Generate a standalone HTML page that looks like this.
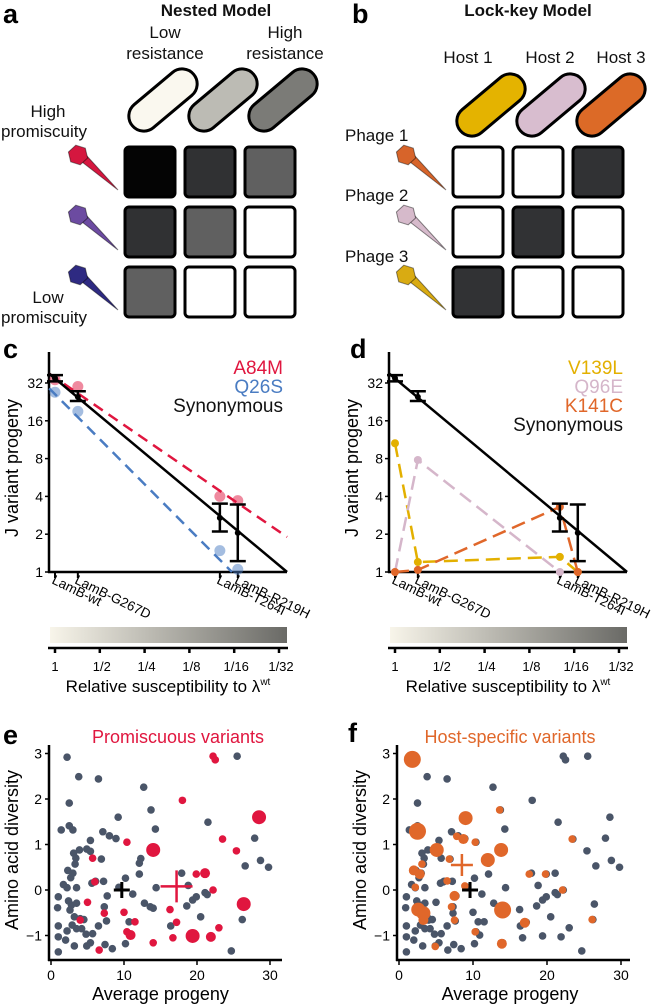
<!DOCTYPE html>
<html><head><meta charset="utf-8"><style>
html,body{margin:0;padding:0;background:#fff;}
svg{display:block;font-family:"Liberation Sans",sans-serif;}
</style></head><body>
<svg id="fig" width="656" height="1006" viewBox="0 0 656 1006" xmlns="http://www.w3.org/2000/svg">
<defs>
<linearGradient id="gradSus" x1="0" x2="1" y1="0" y2="0">
<stop offset="0" stop-color="#f8f5ea"/><stop offset="1" stop-color="#6a6a66"/>
</linearGradient>
</defs>
<g font-weight="bold" font-size="27">
<text x="3" y="23">a</text>
<text x="352" y="23">b</text>
<text x="3" y="358">c</text>
<text x="350" y="358">d</text>
<text x="3" y="744">e</text>
<text x="348" y="742">f</text>
</g>
<g font-size="17" fill="#111">
<text x="216" y="16" font-weight="bold" text-anchor="middle">Nested Model</text>
<text x="165" y="38" text-anchor="middle">Low</text>
<text x="165" y="59" text-anchor="middle">resistance</text>
<text x="285" y="38" text-anchor="middle">High</text>
<text x="285" y="59" text-anchor="middle">resistance</text>
<text x="48" y="117" text-anchor="middle">High</text>
<text x="44" y="137" text-anchor="middle">promiscuity</text>
<text x="48" y="303" text-anchor="middle">Low</text>
<text x="44" y="323" text-anchor="middle">promiscuity</text>
</g>
<g font-size="17" fill="#111">
<text x="528" y="16" font-weight="bold" text-anchor="middle">Lock-key Model</text>
<text x="468" y="63" text-anchor="middle">Host 1</text>
<text x="550" y="63" text-anchor="middle">Host 2</text>
<text x="621" y="63" text-anchor="middle">Host 3</text>
<text x="345" y="141">Phage 1</text>
<text x="345" y="201">Phage 2</text>
<text x="345" y="262">Phage 3</text>
</g>
<g id="schem"></g>
<g id="pc"></g>
<g id="pd"></g>
<g id="pe"></g>
<g id="pf"></g>
</svg>
<script>
// ---------- data ----------
const strainNames = ["LamB-wt","LamB-G267D","LamB-T264I","LamB-R219H"];
const strainHalvings = [0, 0.51, 3.68, 4.08];
const progenyTicks = [1,2,4,8,16,32];
const susTickLabels = ["1","1/2","1/4","1/8","1/16","1/32"];
const synMean = [35, 24.8, 2.7, 2.05];
const synLo = [33, 23, 2.1, 1.22];
const synHi = [37, 27.5, 3.5, 3.45];
const synLine = [[-0.13, 38], [5.18, 1]];
const a84mVals = [34, 30, 4.0, 3.7];
const a84mLine = [[-0.13, 38], [5.18, 1.9]];
const q26sVals = [27, 19, 1.48, 1.05];
const q26sLine = [[-0.13, 29], [3.95, 1.0]];
const v139lVals = [10.6, 1.2, 1.32, 1.0];
const q96eVals = [1.0, 7.8, 1.0];
const k141cVals = [1.0, 1.04, 3.3, 1.0];

const xTicksScatter = [0,10,20,30];
const yTicksScatter = [-1,0,1,2,3];
const grayX = [2.2,3.8,6.5,12.7,13.7,9.2,2.5,1.4,2.5,3.0,14.3,7.1,8.0,8.9,5.4,4.9,3.9,3.1,5.4,6.9,3.4,12.3,12.1,3.3,2.3,2.7,3.0,1.7,2.2,3.5,6.1,7.2,10.2,9.3,12.1,14.4,17.9,18.8,5.6,1.0,0.9,2.4,2.8,2.6,3.5,3.2,4.0,4.5,2.9,3.5,4.2,4.8,2.2,1.0,1.0,2.0,3.2,4.9,5.4,1.0,5.7,6.5,7.3,7.7,7.6,7.4,8.4,10.2,10.7,11.2,12.8,13.6,14.0,16.4,18.6,19.4,19.9,20.5,21.1,21.5,21.4,25.5,26.6,27.9,28.7,29.8,26.2,24.7];
const grayY = [2.92,2.49,2.44,2.26,1.76,1.60,1.91,1.32,1.41,1.32,1.34,1.28,1.19,1.13,1.09,0.90,0.88,0.81,0.85,0.68,0.70,0.69,0.59,0.57,0.43,0.27,0.37,0.12,0.05,0.05,0.19,0.19,0.26,0.06,0.35,0.05,0.37,0.10,0.15,-0.15,-0.39,-0.24,-0.33,-0.44,-0.29,-0.59,-0.63,-0.65,-0.77,-0.85,-0.85,-0.97,-0.90,-0.79,-1.03,-1.10,-1.23,-1.23,-1.16,-1.36,-0.96,-0.79,-0.37,-0.13,-0.68,-1.20,-1.29,-1.18,-0.70,-0.09,-0.29,-0.37,-0.40,-0.79,-0.35,-0.22,-0.15,-0.59,-0.06,1.49,-0.10,2.94,0.53,1.14,0.65,0.50,-0.65,-1.34];
const redX = [22.2,22.5,18.0,28.5,10.4,14.0,23.5,25.4,5.7,6.0,19.9,21.1,22.2,5.0,10.0,26.4,16.3,17.2,7.3,4.0,11.5,10.4,10.9,23.0,19.4,21.9,16.7,14.0,6.6];
const redY = [2.94,2.86,1.97,1.60,1.05,0.88,1.12,0.86,0.70,0.18,0.35,0.37,0.0,-0.27,-0.49,-0.31,-0.43,-0.71,-0.51,-0.66,-0.70,-0.92,-0.99,-0.83,-1.01,-1.03,-1.05,-1.16,-1.32];
const redSize = [1,1,1,3,1,3,1,1,1,1,1,2,1,1,1,3,1,1,1,1,1,1,2,1,3,2,1,1,1];
const orangeX = [1.8,2.5,13.6,9.0,7.8,8.7,10.3,5.1,13.8,12.0,6.8,3.1,2.0,2.8,2.2,6.5,8.9,17.6,19.8,23.4,22.1,7.5,7.1,7.5,14.0,2.6,3.3,3.3,17.0,26.1,10.3,13.9,4.9];
const orangeY = [2.87,1.29,1.76,1.58,1.18,1.12,1.05,0.88,0.88,0.66,0.68,0.57,0.43,0.35,0.06,0.2,0.09,0.35,0.35,1.12,0.0,-0.13,-0.37,-0.66,-0.44,-0.43,-0.51,-0.66,-0.72,-0.65,-0.92,-1.18,-1.24];
const orangeSize = [4,4,1,3,1,2,1,3,3,3,1,1,2,2,1,1,1,1,1,1,1,2,1,1,4,3,3,2,2,1,1,2,1];
const meanAllE = [9.7, 0.0];
const meanRed = [17.2, 0.08];
const meanAllF = [9.6, 0.0];
const meanOrange = [8.5, 0.55];

// ---------- helpers ----------
const NS = "http://www.w3.org/2000/svg";
function mk(tag, attrs, parent){const e=document.createElementNS(NS,tag);for(const k in attrs)e.setAttribute(k,attrs[k]);parent.appendChild(e);return e;}

// ---------- schematics ----------
const schem = document.getElementById("schem");
const gridA = [["#040404","#303133","#606060"],["#303133","#606060","#ffffff"],["#606060","#ffffff","#ffffff"]];
const gridB = [["#ffffff","#ffffff","#313234"],["#ffffff","#313234","#ffffff"],["#313234","#ffffff","#ffffff"]];
const pillA = ["#faf8ef","#bcbbb4","#7b7b77"];
const pillB = ["#e4b300","#d8bdcf","#dc6a27"];
const phageA = ["#d5173f","#6c4ba1","#2e2a82"];
const phageB = ["#d7642a","#d6bacb","#d9ab12"];
function drawPanel(ox, grid, pills, phages, pillY, tag){
  for(let c=0;c<3;c++){
    const cx=ox+163+c*60, cy=pillY;
    const p=mk("rect",{x:cx-40,y:cy-15,width:80,height:30,rx:15,fill:pills[c],stroke:"#000","stroke-width":3,transform:`rotate(-40 ${cx} ${cy})`},schem);
    
    
  }
  for(let r=0;r<3;r++){
    for(let c=0;c<3;c++){
      const s=mk("rect",{x:ox+125+c*60,y:147+r*60,width:50,height:50,rx:4,fill:grid[r][c],stroke:"#000","stroke-width":3},schem);
      
      
    }
    const hx=ox+78, hy=155+r*60;
    const g=mk("g",{},schem);
    
    
    mk("path",{d:`M${hx+4} ${hy+7} L${ox+118} ${hy+35} L${hx+9} ${hy+1} Z`,fill:phages[r],stroke:"rgba(0,0,0,0.45)","stroke-width":1},g);
    let pts=[];for(let i=0;i<6;i++){const a=Math.PI/3*i+0.3;pts.push((hx+10*Math.cos(a)).toFixed(1)+","+(hy+10*Math.sin(a)).toFixed(1));}
    mk("polygon",{points:pts.join(" "),fill:phages[r],stroke:"rgba(0,0,0,0.45)","stroke-width":1},g);
  }
}
drawPanel(0, gridA, pillA, phageA, 100, "nested");
drawPanel(328, gridB, pillB, phageB, 105, "lockkey");

// ---------- panels c & d ----------
function lineChart(gid, ox, series, legend){
  const g=document.getElementById(gid);
  const x0=55+ox, yb=572, perH=44.8, perY=37.8;
  const X=h=>x0+h*perH, Y=v=>yb-Math.log2(v)*perY;
  const gr=mk("rect",{x:50+ox,y:627,width:237,height:16,fill:"url(#gradSus)"},g);
  
  
  mk("line",{x1:48+ox,x2:288+ox,y1:648,y2:648,stroke:"#000","stroke-width":2.5},g);
  susTickLabels.forEach((t,i)=>{
    mk("line",{x1:X(i),x2:X(i),y1:648,y2:653,stroke:"#000","stroke-width":2.5},g);
    const tx=mk("text",{x:X(i)+(i===0?0:2),y:671,"font-size":13,"text-anchor":"middle"},g);tx.textContent=t;
    
    
  });
  const st=mk("text",{x:168+ox,y:692,"font-size":17,"text-anchor":"middle"},g);
  
  
  st.innerHTML='Relative susceptibility to λ<tspan font-size="10" dy="-7">wt</tspan>';
  mk("line",{x1:49+ox,x2:49+ox,y1:352,y2:573,stroke:"#000","stroke-width":2.5},g);
  mk("line",{x1:48+ox,x2:287+ox,y1:572,y2:572,stroke:"#000","stroke-width":2.5},g);
  progenyTicks.forEach(t=>{
    mk("line",{x1:45+ox,x2:49+ox,y1:Y(t),y2:Y(t),stroke:"#000","stroke-width":1.5},g);
    const tx=mk("text",{x:43+ox,y:Y(t)+5,"font-size":14,"text-anchor":"end"},g);tx.textContent=t;
    
    
  });
  const yt=mk("text",{x:0,y:0,"font-size":18,"text-anchor":"middle",transform:`translate(${18+ox},${468}) rotate(-90)`},g);
  yt.textContent="J variant progeny";
  
  
  strainNames.forEach((n,i)=>{
    mk("line",{x1:X(strainHalvings[i]),x2:X(strainHalvings[i]),y1:572,y2:578,stroke:"#000","stroke-width":2},g);
    const tx=mk("text",{x:0,y:0,"font-size":13.5,transform:`translate(${X(strainHalvings[i])-4},${583}) rotate(26)`},g);tx.textContent=n;
    
    
  });
  series.forEach(s=>{
    if(s.line){
      const l=mk("line",{x1:X(s.line[0][0]),y1:Y(s.line[0][1]),x2:X(s.line[1][0]),y2:Y(s.line[1][1]),stroke:s.color,"stroke-width":2.5,"stroke-dasharray":"11 7"},g);
      
      
    }
    if(s.path){
      const d=s.vals.map((v,i)=>(i?"L":"M")+X(strainHalvings[i])+" "+Y(v)).join(" ");
      const p=mk("path",{d:d,fill:"none",stroke:s.color,"stroke-width":2.5,"stroke-dasharray":"14 7"},g);
      
      
    }
    s.vals.forEach((v,i)=>{
      const c=mk("circle",{cx:X(strainHalvings[i]),cy:Y(v),r:s.r,fill:s.color,"fill-opacity":s.op},g);
      
      
    });
  });
  const sl=mk("line",{x1:X(synLine[0][0]),y1:Y(synLine[0][1]),x2:X(synLine[1][0]),y2:Y(synLine[1][1]),stroke:"#000","stroke-width":2.5},g);
  
  
  synMean.forEach((m,i)=>{
    const x=X(strainHalvings[i]);
    const eb=mk("path",{d:`M${x} ${Y(synLo[i])} L${x} ${Y(synHi[i])} M${x-8} ${Y(synLo[i])} L${x+8} ${Y(synLo[i])} M${x-8} ${Y(synHi[i])} L${x+8} ${Y(synHi[i])}`,stroke:"#000","stroke-width":2.5,fill:"none"},g);
    
    
    const c=mk("circle",{cx:x,cy:Y(m),r:3,fill:"#000"},g);
    
    
  });
  legend.forEach((l,i)=>{
    const t=mk("text",{x:283+ox,y:374+i*19,"font-size":19,"text-anchor":"end",fill:l[1]},g);t.textContent=l[0];
    
    
  });
}
lineChart("pc",0,[
  {name:"a84m",vals:a84mVals,color:"#e0163f",r:5.5,op:0.5,line:a84mLine},
  {name:"q26s",vals:q26sVals,color:"#4a7cc2",r:5.5,op:0.5,line:q26sLine}
],[["A84M","#e0163f"],["Q26S","#4a7cc2"],["Synonymous","#111"]]);
lineChart("pd",340,[
  {name:"v139l",vals:v139lVals,color:"#e3b000",r:4,op:1,path:true},
  {name:"q96e",vals:q96eVals,color:"#d5b6ca",r:4,op:1,path:true},
  {name:"k141c",vals:k141cVals,color:"#e0672a",r:4,op:1,path:true}
],[["V139L","#e3b000"],["Q96E","#d5b6ca"],["K141C","#e0672a"],["Synonymous","#111"]]);

// ---------- panels e & f ----------
function scatter(gid, ox, perX, hiX, hiY, hiS, hiColor, allGray, meanAll, meanHi, title, titleX){
  const g=document.getElementById(gid);
  const x0=51+ox, X=v=>x0+v*perX, Y=v=>890-v*45.5;
  mk("line",{x1:49+ox,x2:49+ox,y1:745,y2:961,stroke:"#000","stroke-width":2.5},g);
  mk("line",{x1:48+ox,x2:282+ox,y1:960,y2:960,stroke:"#000","stroke-width":2.5},g);
  yTicksScatter.forEach(t=>{
    mk("line",{x1:45+ox,x2:49+ox,y1:Y(t),y2:Y(t),stroke:"#000","stroke-width":1.5},g);
    const tx=mk("text",{x:42+ox,y:Y(t)+5,"font-size":14,"text-anchor":"end"},g);tx.textContent=(t<0?"\u2212"+(-t):t);
    
    
  });
  xTicksScatter.forEach(t=>{
    mk("line",{x1:X(t),x2:X(t),y1:960,y2:965,stroke:"#000","stroke-width":1.5},g);
    const tx=mk("text",{x:X(t),y:980,"font-size":14,"text-anchor":"middle"},g);tx.textContent=t;
    
    
  });
  const xt=mk("text",{x:(X(0)+X(30))/2,y:1000,"font-size":18,"text-anchor":"middle"},g);xt.textContent="Average progeny";
  
  
  const yt=mk("text",{x:0,y:0,"font-size":18,"text-anchor":"middle",transform:`translate(${18+ox},850) rotate(-90)`},g);yt.textContent="Amino acid diversity";
  
  
  const tt=mk("text",{x:titleX,y:743,"font-size":18,"text-anchor":"middle",fill:hiColor},g);tt.textContent=title;
  
  
  const gx=allGray?grayX.concat(redX):grayX, gy=allGray?grayY.concat(redY):grayY;
  gx.forEach((v,i)=>{
    const c=mk("circle",{cx:X(v),cy:Y(gy[i]),r:3.8,fill:"#4a5568"},g);
    
    
  });
  hiX.forEach((v,i)=>{
    const c=mk("circle",{cx:X(v),cy:Y(hiY[i]),r:[0,3.8,5,7,8.5][hiS[i]],fill:hiColor},g);
    
    
  });
  const m1=mk("path",{d:`M${X(meanAll[0])-8} ${Y(meanAll[1])} h16 M${X(meanAll[0])} ${Y(meanAll[1])-8} v16`,stroke:"#000","stroke-width":3},g);
  
  
  const L=gid==="pe"?16:11;
  const m2=mk("path",{d:`M${X(meanHi[0])-L} ${Y(meanHi[1])} h${2*L} M${X(meanHi[0])} ${Y(meanHi[1])-L} v${2*L}`,stroke:hiColor,"stroke-width":2.5},g);
  
  
}
scatter("pe",0,7.3,redX,redY,redSize,"#e0163f",false,meanAllE,meanRed,"Promiscuous variants",178);
scatter("pf",348,7.4,orangeX,orangeY,orangeSize,"#e0672a",true,meanAllF,meanOrange,"Host-specific variants",510);
</script>
</body></html>
